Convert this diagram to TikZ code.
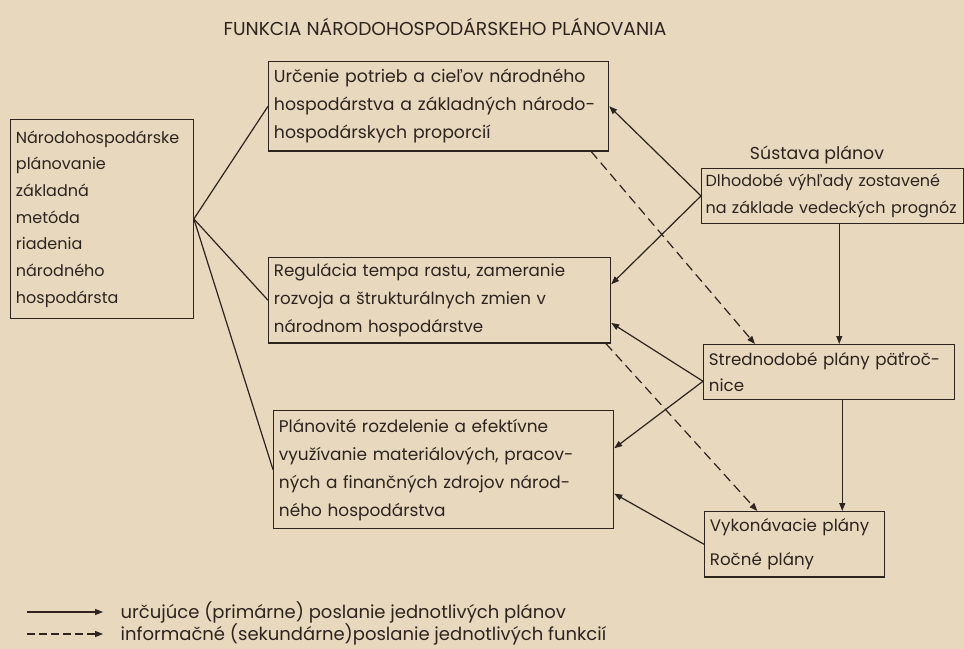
\documentclass[tikz,border=0pt]{standalone}
\usepackage{fontspec}
\setmainfont{Poppins}
\usetikzlibrary{arrows.meta}
\definecolor{paper}{RGB}{231,216,190}
\definecolor{ink}{RGB}{45,36,30}
\begin{document}
\begin{tikzpicture}[x=0.75pt,y=-0.75pt,
  box/.style={draw=ink,line width=0.9pt,rectangle,anchor=north west,inner sep=4pt,align=left,text=ink,font=\fontsize{12.5}{21}\selectfont},
  lbl/.style={text=ink,font=\fontsize{13.5}{15}\selectfont},
  ln/.style={ink,line width=0.9pt},
  arr/.style={ink,line width=0.9pt,-{Triangle[length=6pt,width=4.5pt]}},
  darr/.style={ink,line width=0.9pt,dash pattern=on 7pt off 4pt,-{Triangle[length=6pt,width=4.5pt]}}]
\fill[paper] (0,0) rectangle (964,649);
\useasboundingbox (0,0) rectangle (964,649);
\node[lbl,font=\fontsize{14}{16}\selectfont] (title) at (445,27) {FUNKCIA NÁRODOHOSPODÁRSKEHO PLÁNOVANIA};
\node[box,minimum width=137pt,minimum height=149pt,text width=129pt,font=\fontsize{12}{20}\selectfont] (L) at (10,119) {Národohospodárske\\plánovanie\\základná\\metóda\\riadenia\\národného\\hospodársta};
\node[box,minimum width=255pt,minimum height=67pt,text width=247pt,font=\fontsize{13}{21}\selectfont] (B1) at (268,61) {Určenie potrieb a cieľov národného\\hospodárstva a základných národo-\\hospodárskych proporcií};
\node[box,minimum width=256.5pt,minimum height=64pt,text width=248.5pt] (B2) at (268,257) {Regulácia tempa rastu, zameranie\\rozvoja a štrukturálnych zmien v\\národnom hospodárstve};
\node[box,minimum width=255pt,minimum height=88.5pt,text width=247pt,font=\fontsize{12.7}{21}\selectfont] (B3) at (273,410) {Plánovité rozdelenie a efektívne\\využívanie materiálových, pracov-\\ných a finančných zdrojov národ-\\ného hospodárstva};
\node[lbl,font=\fontsize{13}{15}\selectfont] (sus) at (817,155) {Sústava plánov};
\node[box,minimum width=196.5pt,minimum height=41pt,inner xsep=3pt,text width=190.5pt,font=\fontsize{12}{20}\selectfont] (B4) at (701,168) {Dlhodobé výhľady zostavené\\na základe vedeckých prognóz};
\node[box,minimum width=188pt,minimum height=41pt,text width=180pt,font=\fontsize{12.5}{20}\selectfont] (B5) at (703,344) {Strednodobé plány päťroč-\\nice};
\node[box,minimum width=135pt,minimum height=49pt,text width=127pt,font=\fontsize{12.5}{25}\selectfont] (B6) at (704,511) {Vykonávacie plány\\Ročné plány};
\draw[ln] (L.east) -- (B1.west);
\draw[ln] (L.east) -- (B2.west);
\draw[ln] (L.east) -- (B3.west);
\draw[arr] (B4.west) -- (B1.east);
\draw[arr] (B4.west) -- ([yshift=12pt]B2.east);
\draw[arr] ([yshift=-7pt]B5.west) -- ([yshift=-17pt]B2.east);
\draw[arr] ([yshift=-7pt]B5.west) -- ([yshift=16pt]B3.east);
\draw[arr] (B6.west) -- ([yshift=-18pt]B3.east);
\draw[darr] ([xshift=-13.5pt]B1.south east) -- ([xshift=39pt]B5.north west);
\draw[darr] ([xshift=-4pt]B2.south east) -- ([xshift=40pt]B6.north west);
\draw[arr] ([xshift=5pt]B4.south) -- ([xshift=5pt]B4.south |- B5.north);
\draw[arr] ([xshift=10pt]B5.south) -- ([xshift=10pt]B5.south |- B6.north);
\coordinate (s1) at (27,612);
\coordinate (s2) at (103,612);
\coordinate (d1) at (27,634);
\coordinate (d2) at (103,634);
\draw[arr] (s1) -- (s2);
\draw[darr,dash pattern=on 6pt off 3pt] (d1) -- (d2);
\node[lbl,anchor=west] (t1) at (116,612) {určujúce (primárne) poslanie jednotlivých plánov};
\node[lbl,anchor=west] (t2) at (116,634) {informačné (sekundárne)poslanie jednotlivých funkcií};
\end{tikzpicture}
\end{document}
